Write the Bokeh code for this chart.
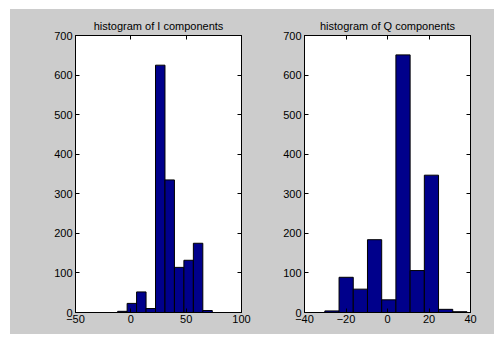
from bokeh.plotting import figure
from bokeh.layouts import row, column
from bokeh.models import (FixedTicker, LinearAxis, CustomJSTickFormatter, Range1d, Spacer)
from bokeh.embed import file_html
from bokeh.resources import INLINE

# ---- data ----
i_edges = [-11.9, -3.35, 5.2, 13.75, 22.3, 30.85, 39.4, 47.95, 56.5, 65.05, 73.6]
i_counts = [3, 23, 52, 10, 625, 335, 114, 132, 175, 5]
q_edges = [-30.2, -23.35, -16.5, -9.65, -2.8, 4.05, 10.9, 17.75, 24.6, 31.45, 38.3]
q_counts = [4, 89, 59, 184, 32, 651, 106, 347, 8, 2]
i_xticks = [-50, 0, 50, 100]
q_xticks = [-40, -20, 0, 20, 40]
yticks = [0, 100, 200, 300, 400, 500, 600, 700]
titles = ["histogram of I components", "histogram of Q components"]

BG = "#cccccc"
BAR = "#00008b"
FONT = "Liberation Sans"


def make(edges, counts, xr, xticks, title, width, left_b, right_b):
    p = figure(width=width, height=325, output_backend="svg", toolbar_location=None,
               x_range=Range1d(*xr), y_range=Range1d(0, 700),
               min_border_left=left_b, min_border_right=right_b,
               min_border_top=26, min_border_bottom=22,
               background_fill_color="white", border_fill_color=BG,
               outline_line_color="black", outline_line_width=1)
    p.title.text = title
    p.title.align = "center"
    p.title.text_font = FONT
    p.title.text_font_size = "11px"
    p.title.text_font_style = "normal"
    p.title.text_color = "black"
    p.title.standoff = 8
    p.xgrid.visible = False
    p.ygrid.visible = False
    p.quad(left=edges[:-1], right=edges[1:], top=counts, bottom=0,
           fill_color=BAR, line_color="black", line_width=1)
    blank = CustomJSTickFormatter(code="return ''")
    for ax, tk in ((p.xaxis[0], xticks), (p.yaxis[0], yticks)):
        ax.ticker = FixedTicker(ticks=tk)
        ax.major_tick_in = 4
        ax.major_tick_out = 0
        ax.minor_tick_line_color = None
        ax.axis_line_color = "black"
        ax.major_tick_line_color = "black"
        ax.major_label_text_font = FONT
        ax.major_label_text_font_size = "11px"
        ax.major_label_text_color = "black"
        ax.major_label_standoff = 2
    p.yaxis[0].major_label_standoff = 3
    for loc, tk in (("right", yticks), ("above", xticks)):
        a = LinearAxis(ticker=FixedTicker(ticks=tk), formatter=blank,
                       major_tick_in=4, major_tick_out=0,
                       minor_tick_line_color=None, axis_line_color="black",
                       major_tick_line_color="black", major_label_text_font_size="0px",
                       major_label_standoff=0)
        p.add_layout(a, loc)
    return p


p1 = make(i_edges, i_counts, (-50, 100), i_xticks, titles[0], 262, 65, 31)
p2 = make(q_edges, q_counts, (-40, 40), q_xticks, titles[1], 222, 32, 24)

inner = row(p1, p2, styles={"background-color": BG})
layout = row(Spacer(width=10, height=334),
             column(Spacer(width=484, height=9), inner))

open("out.html", "w").write(file_html(layout, INLINE))
